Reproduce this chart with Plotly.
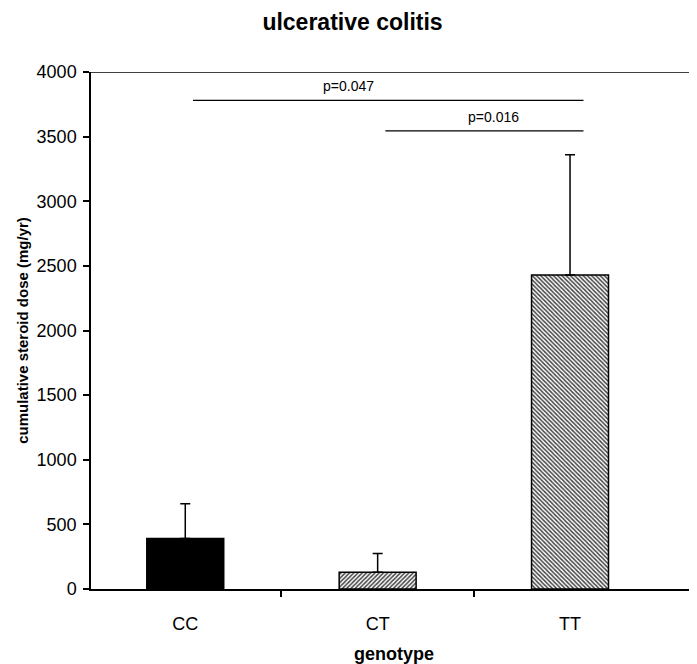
import plotly.graph_objects as go

categories = ["CC", "CT", "TT"]
means = [390, 130, 2430]
err_plus = [270, 145, 930]
patterns = ["", "/", "\\"]
fill_colors = ["black", "white", "white"]

comparisons = [  # (from index, to index, height, label)
    (0, 2, 3780, "p=0.047"),
    (1, 2, 3545, "p=0.016"),
]

xpos = list(range(len(categories)))
FONT = "Liberation Sans, Arial, sans-serif"

fig = go.Figure()
fig.add_trace(go.Bar(
    x=xpos, y=means, width=0.40,
    marker=dict(
        color=fill_colors,
        line=dict(color="black", width=1.5),
        pattern=dict(shape=patterns, fgcolor="black", bgcolor="white",
                     size=3, solidity=0.5, fillmode="overlay", fgopacity=1),
    ),
    error_y=dict(type="data", symmetric=False, array=err_plus,
                 arrayminus=[0] * len(means), color="black",
                 thickness=1.5, width=5),
    showlegend=False,
))

label_shift = [-0.15, 0.10]
for (a, b, h, lab), sh in zip(comparisons, label_shift):
    fig.add_shape(type="line", xref="x", yref="y", x0=a + 0.04, x1=b + 0.07,
                  y0=h, y1=h, line=dict(color="black", width=1.3))
    fig.add_annotation(x=(a + b) / 2 + sh, y=h, xref="x", yref="y",
                       text=lab, showarrow=False, yshift=14,
                       font=dict(size=14, color="black", family=FONT))

# top border line
fig.add_shape(type="line", xref="paper", yref="y", x0=0, x1=1, y0=4000, y1=4000,
              line=dict(color="black", width=1.5))

fig.update_layout(
    width=689, height=656,
    margin=dict(l=83, r=0, t=64, b=75),
    paper_bgcolor="white", plot_bgcolor="white",
    title=dict(text="<b>ulcerative colitis</b>", x=0.5, xanchor="center",
               y=0.979, yanchor="middle",
               font=dict(size=23, family=FONT, color="black")),
    font=dict(family=FONT, color="black"),
    bargap=0.6,
)
fig.update_xaxes(
    range=[-0.49, 2.66],
    tickmode="array", tickvals=xpos, ticktext=categories,
    ticks="", showgrid=False, zeroline=False,
    showline=True, linecolor="black", linewidth=1.5,
    tickfont=dict(size=18, family=FONT), ticklabelstandoff=18,
    minor=dict(tickmode="array", tickvals=[0.5, 1.5], ticks="outside",
               ticklen=6, tickcolor="black", tickwidth=1.5, showgrid=False),
    title=dict(text="<b>genotype</b>", font=dict(size=18, family=FONT), standoff=14),
)
fig.update_yaxes(
    range=[0, 4000], tickmode="array",
    tickvals=[0, 500, 1000, 1500, 2000, 2500, 3000, 3500, 4000],
    ticks="outside", ticklen=6, tickwidth=1.5, tickcolor="black",
    showgrid=False, zeroline=False,
    showline=True, linecolor="black", linewidth=1.5,
    tickfont=dict(size=18, family=FONT), ticklabelstandoff=3,
    title=dict(text="<b>cumulative steroid dose (mg/yr)</b>",
               font=dict(size=15, family=FONT), standoff=4),
)

fig.write_html("out.html")
